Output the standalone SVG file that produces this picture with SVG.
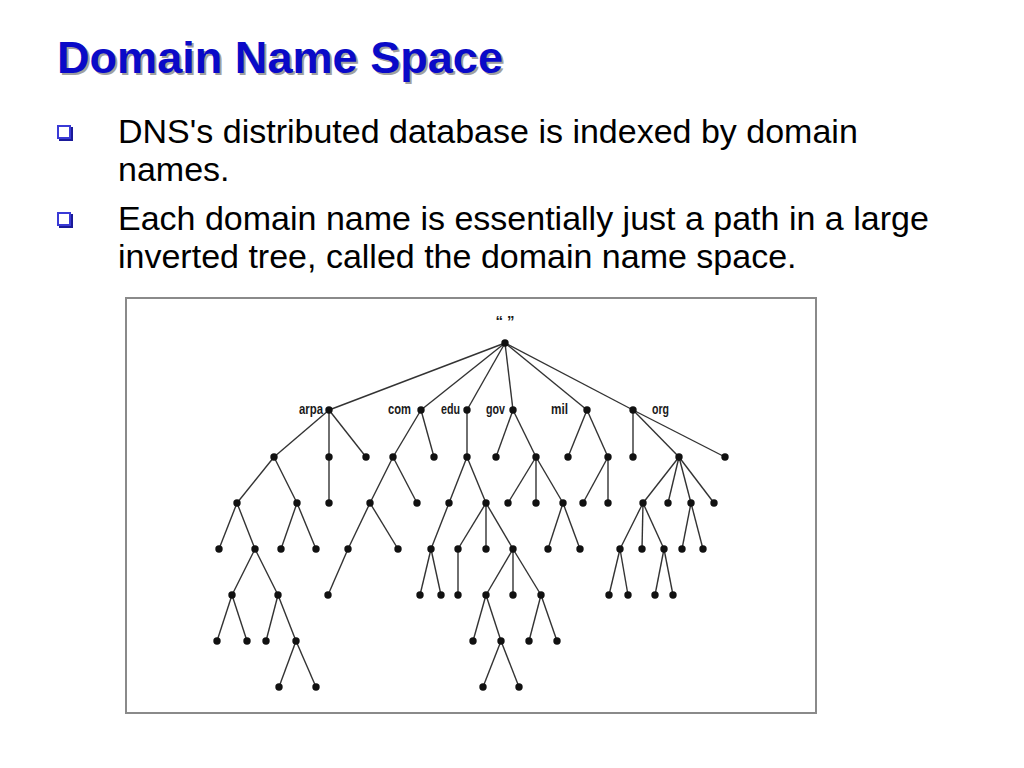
<svg xmlns="http://www.w3.org/2000/svg" width="1024" height="768" viewBox="0 0 1024 768">
<style>
.title{font-family:"Liberation Sans",Arial,sans-serif;font-weight:bold;font-size:45px}
.body{font-family:"Liberation Sans",Arial,sans-serif;font-size:34px;fill:#000}
.lbl{font-family:"Liberation Sans",Arial,sans-serif;font-size:15px;font-weight:bold;fill:#1a1a1a}
.dot{fill:#111}
#connectors line{stroke:#333;stroke-width:1.4}
</style>
<defs>
<g id="bullet">
<rect x="2" y="2" width="14" height="14" fill="#1a1a99"/>
<rect x="0" y="0" width="14" height="14" fill="#3a3ad6"/>
<rect x="2" y="2" width="10" height="10" fill="#fff"/>
</g>
</defs>
<rect width="1024" height="768" fill="#fff"/>
<g id="title">
<text class="title" x="59" y="75" fill="#a0a0a0" textLength="446" lengthAdjust="spacingAndGlyphs">Domain Name Space</text>
<text class="title" x="57" y="73" fill="#0a0ac8" textLength="446" lengthAdjust="spacingAndGlyphs">Domain Name Space</text>
</g>
<g id="bullets">
<use href="#bullet" x="57" y="125"/>
<text class="body" x="118" y="143">DNS's distributed database is indexed by domain</text>
<text class="body" x="118" y="181">names.</text>
<use href="#bullet" x="57" y="212"/>
<text class="body" x="118" y="230">Each domain name is essentially just a path in a large</text>
<text class="body" x="118" y="268">inverted tree, called the domain name space.</text>
</g>
<rect id="frame" x="126" y="298" width="690" height="415" fill="#fff" stroke="#8a8a8a" stroke-width="2"/>
<g id="connectors">
<line x1="505" y1="343" x2="329" y2="410"/>
<line x1="505" y1="343" x2="421" y2="410"/>
<line x1="505" y1="343" x2="467" y2="410"/>
<line x1="505" y1="343" x2="513" y2="410"/>
<line x1="505" y1="343" x2="587" y2="410"/>
<line x1="505" y1="343" x2="633" y2="410"/>
<line x1="329" y1="410" x2="274" y2="457"/>
<line x1="329" y1="410" x2="329" y2="457"/>
<line x1="329" y1="410" x2="366" y2="457"/>
<line x1="421" y1="410" x2="393" y2="457"/>
<line x1="421" y1="410" x2="434" y2="457"/>
<line x1="467" y1="410" x2="467" y2="457"/>
<line x1="513" y1="410" x2="496" y2="457"/>
<line x1="513" y1="410" x2="536" y2="457"/>
<line x1="587" y1="410" x2="568" y2="457"/>
<line x1="587" y1="410" x2="608" y2="457"/>
<line x1="633" y1="410" x2="633" y2="457"/>
<line x1="633" y1="410" x2="679" y2="457"/>
<line x1="633" y1="410" x2="725" y2="457"/>
<line x1="274" y1="457" x2="237" y2="503"/>
<line x1="274" y1="457" x2="297" y2="503"/>
<line x1="329" y1="457" x2="329" y2="503"/>
<line x1="393" y1="457" x2="370" y2="503"/>
<line x1="393" y1="457" x2="417" y2="503"/>
<line x1="467" y1="457" x2="449" y2="503"/>
<line x1="467" y1="457" x2="486" y2="503"/>
<line x1="536" y1="457" x2="508" y2="503"/>
<line x1="536" y1="457" x2="536" y2="503"/>
<line x1="536" y1="457" x2="563" y2="503"/>
<line x1="608" y1="457" x2="583" y2="503"/>
<line x1="608" y1="457" x2="608" y2="503"/>
<line x1="679" y1="457" x2="643" y2="503"/>
<line x1="679" y1="457" x2="668" y2="503"/>
<line x1="679" y1="457" x2="691" y2="503"/>
<line x1="679" y1="457" x2="714" y2="503"/>
<line x1="237" y1="503" x2="219" y2="549"/>
<line x1="237" y1="503" x2="255" y2="549"/>
<line x1="297" y1="503" x2="281" y2="549"/>
<line x1="297" y1="503" x2="316" y2="549"/>
<line x1="370" y1="503" x2="348" y2="549"/>
<line x1="370" y1="503" x2="398" y2="549"/>
<line x1="449" y1="503" x2="431" y2="549"/>
<line x1="486" y1="503" x2="458" y2="549"/>
<line x1="486" y1="503" x2="486" y2="549"/>
<line x1="486" y1="503" x2="513" y2="549"/>
<line x1="563" y1="503" x2="548" y2="549"/>
<line x1="563" y1="503" x2="580" y2="549"/>
<line x1="643" y1="503" x2="620" y2="549"/>
<line x1="643" y1="503" x2="642" y2="549"/>
<line x1="643" y1="503" x2="664" y2="549"/>
<line x1="691" y1="503" x2="682" y2="549"/>
<line x1="691" y1="503" x2="703" y2="549"/>
<line x1="255" y1="549" x2="232" y2="595"/>
<line x1="255" y1="549" x2="278" y2="595"/>
<line x1="348" y1="549" x2="328" y2="595"/>
<line x1="431" y1="549" x2="420" y2="595"/>
<line x1="431" y1="549" x2="441" y2="595"/>
<line x1="458" y1="549" x2="458" y2="595"/>
<line x1="513" y1="549" x2="486" y2="595"/>
<line x1="513" y1="549" x2="513" y2="595"/>
<line x1="513" y1="549" x2="541" y2="595"/>
<line x1="620" y1="549" x2="609" y2="595"/>
<line x1="620" y1="549" x2="628" y2="595"/>
<line x1="664" y1="549" x2="655" y2="595"/>
<line x1="664" y1="549" x2="673" y2="595"/>
<line x1="232" y1="595" x2="217" y2="641"/>
<line x1="232" y1="595" x2="247" y2="641"/>
<line x1="278" y1="595" x2="266" y2="641"/>
<line x1="278" y1="595" x2="296" y2="641"/>
<line x1="486" y1="595" x2="473" y2="641"/>
<line x1="486" y1="595" x2="501" y2="641"/>
<line x1="541" y1="595" x2="529" y2="641"/>
<line x1="541" y1="595" x2="557" y2="641"/>
<line x1="296" y1="641" x2="279" y2="687"/>
<line x1="296" y1="641" x2="316" y2="687"/>
<line x1="501" y1="641" x2="483" y2="687"/>
<line x1="501" y1="641" x2="519" y2="687"/>
</g>
<g id="nodes">
<g id="root"><text class="lbl" x="505" y="326" font-size="8" text-anchor="middle">“ ”</text><circle class="dot" cx="505" cy="343" r="3.7"/></g>
<g id="arpa"><text class="lbl" x="299" y="414" textLength="24" lengthAdjust="spacingAndGlyphs">arpa</text><circle class="dot" cx="329" cy="410" r="3.7"/></g>
<g id="com"><text class="lbl" x="388" y="414" textLength="23" lengthAdjust="spacingAndGlyphs">com</text><circle class="dot" cx="421" cy="410" r="3.7"/></g>
<g id="edu"><text class="lbl" x="441" y="414" textLength="19" lengthAdjust="spacingAndGlyphs">edu</text><circle class="dot" cx="467" cy="410" r="3.7"/></g>
<g id="gov"><text class="lbl" x="486" y="414" textLength="19" lengthAdjust="spacingAndGlyphs">gov</text><circle class="dot" cx="513" cy="410" r="3.7"/></g>
<g id="mil"><text class="lbl" x="551" y="414" textLength="17" lengthAdjust="spacingAndGlyphs">mil</text><circle class="dot" cx="587" cy="410" r="3.7"/></g>
<g id="org"><text class="lbl" x="652" y="414" textLength="17" lengthAdjust="spacingAndGlyphs">org</text><circle class="dot" cx="633" cy="410" r="3.7"/></g>
<g id="a1"><circle class="dot" cx="274" cy="457" r="3.7"/></g>
<g id="a2"><circle class="dot" cx="329" cy="457" r="3.7"/></g>
<g id="a3"><circle class="dot" cx="366" cy="457" r="3.7"/></g>
<g id="c1"><circle class="dot" cx="393" cy="457" r="3.7"/></g>
<g id="c2"><circle class="dot" cx="434" cy="457" r="3.7"/></g>
<g id="e1"><circle class="dot" cx="467" cy="457" r="3.7"/></g>
<g id="g1"><circle class="dot" cx="496" cy="457" r="3.7"/></g>
<g id="g2"><circle class="dot" cx="536" cy="457" r="3.7"/></g>
<g id="m1"><circle class="dot" cx="568" cy="457" r="3.7"/></g>
<g id="m2"><circle class="dot" cx="608" cy="457" r="3.7"/></g>
<g id="o1"><circle class="dot" cx="633" cy="457" r="3.7"/></g>
<g id="o2"><circle class="dot" cx="679" cy="457" r="3.7"/></g>
<g id="o3"><circle class="dot" cx="725" cy="457" r="3.7"/></g>
<g id="a11"><circle class="dot" cx="237" cy="503" r="3.7"/></g>
<g id="a12"><circle class="dot" cx="297" cy="503" r="3.7"/></g>
<g id="a21"><circle class="dot" cx="329" cy="503" r="3.7"/></g>
<g id="c11"><circle class="dot" cx="370" cy="503" r="3.7"/></g>
<g id="c12"><circle class="dot" cx="417" cy="503" r="3.7"/></g>
<g id="e11"><circle class="dot" cx="449" cy="503" r="3.7"/></g>
<g id="e12"><circle class="dot" cx="486" cy="503" r="3.7"/></g>
<g id="g21"><circle class="dot" cx="508" cy="503" r="3.7"/></g>
<g id="g22"><circle class="dot" cx="536" cy="503" r="3.7"/></g>
<g id="g23"><circle class="dot" cx="563" cy="503" r="3.7"/></g>
<g id="m21"><circle class="dot" cx="583" cy="503" r="3.7"/></g>
<g id="m22"><circle class="dot" cx="608" cy="503" r="3.7"/></g>
<g id="o21"><circle class="dot" cx="643" cy="503" r="3.7"/></g>
<g id="o22"><circle class="dot" cx="668" cy="503" r="3.7"/></g>
<g id="o23"><circle class="dot" cx="691" cy="503" r="3.7"/></g>
<g id="o24"><circle class="dot" cx="714" cy="503" r="3.7"/></g>
<g id="a111"><circle class="dot" cx="219" cy="549" r="3.7"/></g>
<g id="a112"><circle class="dot" cx="255" cy="549" r="3.7"/></g>
<g id="a121"><circle class="dot" cx="281" cy="549" r="3.7"/></g>
<g id="a122"><circle class="dot" cx="316" cy="549" r="3.7"/></g>
<g id="c111"><circle class="dot" cx="348" cy="549" r="3.7"/></g>
<g id="c112"><circle class="dot" cx="398" cy="549" r="3.7"/></g>
<g id="e111"><circle class="dot" cx="431" cy="549" r="3.7"/></g>
<g id="e121"><circle class="dot" cx="458" cy="549" r="3.7"/></g>
<g id="e122"><circle class="dot" cx="486" cy="549" r="3.7"/></g>
<g id="e123"><circle class="dot" cx="513" cy="549" r="3.7"/></g>
<g id="g231"><circle class="dot" cx="548" cy="549" r="3.7"/></g>
<g id="g232"><circle class="dot" cx="580" cy="549" r="3.7"/></g>
<g id="o211"><circle class="dot" cx="620" cy="549" r="3.7"/></g>
<g id="o212"><circle class="dot" cx="642" cy="549" r="3.7"/></g>
<g id="o213"><circle class="dot" cx="664" cy="549" r="3.7"/></g>
<g id="o231"><circle class="dot" cx="682" cy="549" r="3.7"/></g>
<g id="o232"><circle class="dot" cx="703" cy="549" r="3.7"/></g>
<g id="a1121"><circle class="dot" cx="232" cy="595" r="3.7"/></g>
<g id="a1122"><circle class="dot" cx="278" cy="595" r="3.7"/></g>
<g id="c1111"><circle class="dot" cx="328" cy="595" r="3.7"/></g>
<g id="e1111"><circle class="dot" cx="420" cy="595" r="3.7"/></g>
<g id="e1112"><circle class="dot" cx="441" cy="595" r="3.7"/></g>
<g id="e1211"><circle class="dot" cx="458" cy="595" r="3.7"/></g>
<g id="e1231"><circle class="dot" cx="486" cy="595" r="3.7"/></g>
<g id="e1232"><circle class="dot" cx="513" cy="595" r="3.7"/></g>
<g id="e1233"><circle class="dot" cx="541" cy="595" r="3.7"/></g>
<g id="o2111"><circle class="dot" cx="609" cy="595" r="3.7"/></g>
<g id="o2112"><circle class="dot" cx="628" cy="595" r="3.7"/></g>
<g id="o2131"><circle class="dot" cx="655" cy="595" r="3.7"/></g>
<g id="o2132"><circle class="dot" cx="673" cy="595" r="3.7"/></g>
<g id="a11211"><circle class="dot" cx="217" cy="641" r="3.7"/></g>
<g id="a11212"><circle class="dot" cx="247" cy="641" r="3.7"/></g>
<g id="a11221"><circle class="dot" cx="266" cy="641" r="3.7"/></g>
<g id="a11222"><circle class="dot" cx="296" cy="641" r="3.7"/></g>
<g id="e12311"><circle class="dot" cx="473" cy="641" r="3.7"/></g>
<g id="e12312"><circle class="dot" cx="501" cy="641" r="3.7"/></g>
<g id="e12331"><circle class="dot" cx="529" cy="641" r="3.7"/></g>
<g id="e12332"><circle class="dot" cx="557" cy="641" r="3.7"/></g>
<g id="a112221"><circle class="dot" cx="279" cy="687" r="3.7"/></g>
<g id="a112222"><circle class="dot" cx="316" cy="687" r="3.7"/></g>
<g id="e123121"><circle class="dot" cx="483" cy="687" r="3.7"/></g>
<g id="e123122"><circle class="dot" cx="519" cy="687" r="3.7"/></g>
</g>
</svg>
